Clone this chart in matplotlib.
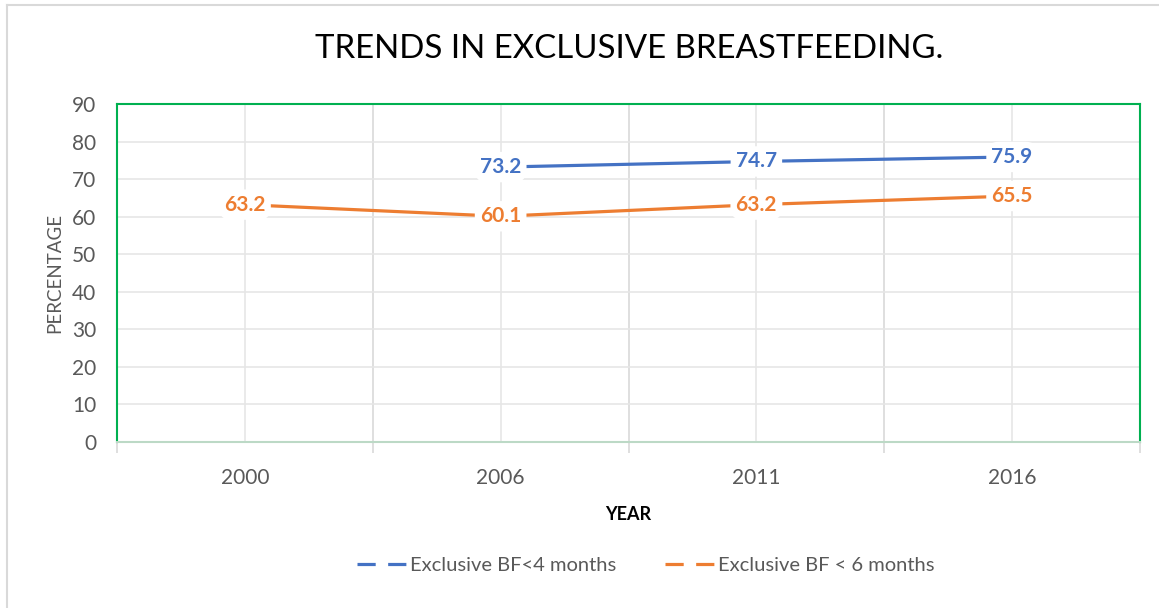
import matplotlib.pyplot as plt
import numpy as np
from matplotlib.lines import Line2D

# data
years = ['2000', '2006', '2011', '2016']
bf_under4 = [np.nan, 73.2, 74.7, 75.9]
bf_under6 = [63.2, 60.1, 63.2, 65.5]
yticks = np.arange(0, 100, 10)

blue = '#4472C4'
orange = '#ED7D31'
grey_txt = '#595959'

plt.rcParams['font.family'] = ['Lato', 'DejaVu Sans']

fig = plt.figure(figsize=(11.59, 6.08), dpi=100)
ax = fig.add_axes([117 / 1159, 1 - 442 / 608, 1023 / 1159, 338 / 608])

x = np.arange(len(years))
ax.plot(x, bf_under4, color=blue, lw=2.3, zorder=3)
ax.plot(x, bf_under6, color=orange, lw=2.3, zorder=3)

for xs, vals, col in [(x, bf_under4, blue), (x, bf_under6, orange)]:
    for xi, v in zip(xs, vals):
        if np.isnan(v):
            continue
        ax.text(xi, v, f'{v:.1f}', color=col, fontsize=15, fontweight='bold',
                ha='center', va='center', zorder=4,
                bbox=dict(boxstyle='round,pad=0.25,rounding_size=0.6', fc='white', ec='none'))

ax.set_xlim(-0.5, len(years) - 0.5)
ax.set_ylim(0, 90)
ax.set_yticks(yticks)
ax.set_xticks(x)
ax.set_xticklabels(years)
ax.set_xticks(np.arange(-0.5, len(years), 1), minor=True)

ax.grid(True, which='major', color='#e6e6e6', lw=1.2, zorder=0)
ax.grid(True, which='minor', axis='x', color='#d9d9d9', lw=1.2, zorder=0)
ax.tick_params(axis='y', length=0, labelsize=15, labelcolor=grey_txt, pad=15)
ax.tick_params(axis='x', which='major', length=0, labelsize=15, labelcolor=grey_txt, pad=19)
ax.tick_params(axis='x', which='minor', length=8, color='#d9d9d9', width=1.2)

for s in ['left', 'right', 'top']:
    ax.spines[s].set_color('#00B050')
    ax.spines[s].set_linewidth(1.5)
ax.spines['bottom'].set_color('#bcd9c6')
ax.spines['bottom'].set_linewidth(1.5)

ax.set_ylabel('PERCENTAGE', fontsize=13.5, color=grey_txt, labelpad=6)
ax.set_xlabel('YEAR', fontsize=13, fontweight='bold', color='black', labelpad=13)

fig.text(0.543, 1 - 49 / 608, 'TRENDS IN EXCLUSIVE BREASTFEEDING.', fontsize=23.8,
         ha='center', va='center', color='black')

dash = (0, (5.7, 3.9))
handles = [Line2D([], [], color=blue, lw=2.3, linestyle=dash),
           Line2D([], [], color=orange, lw=2.3, linestyle=dash)]
fig.legend(handles, ['Exclusive BF<4 months', 'Exclusive BF < 6 months'],
           loc='center', bbox_to_anchor=(0.557, 1 - 565 / 608), ncol=2, frameon=False,
           fontsize=14.5, handlelength=2.5, handletextpad=0.15, columnspacing=2.4,
           labelcolor=grey_txt)

# outer chart frame
fig.add_artist(Line2D([7 / 1159, 7 / 1159], [0, 1 - 5 / 608], color='#d9d9d9', lw=1.5,
                      transform=fig.transFigure))
fig.add_artist(Line2D([7 / 1159, 1], [1 - 5 / 608, 1 - 5 / 608], color='#d9d9d9', lw=1.5,
                      transform=fig.transFigure))

fig.savefig('out.png', dpi=100)
